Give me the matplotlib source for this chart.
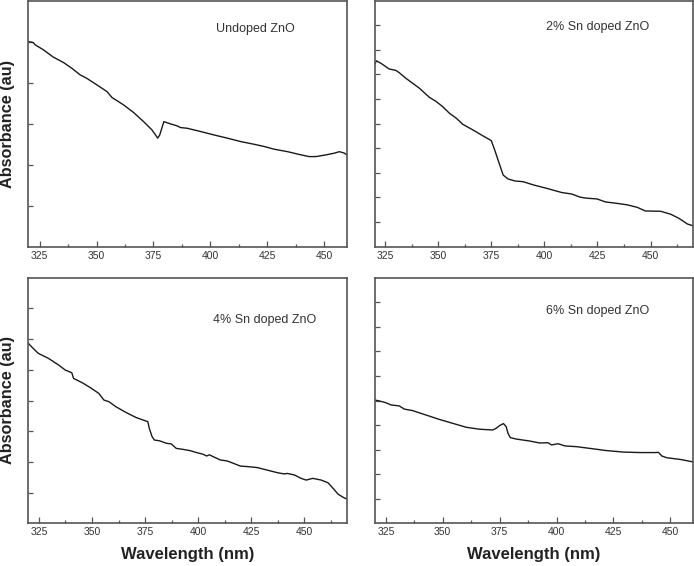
import matplotlib
matplotlib.use("Agg")
import matplotlib.pyplot as plt
from matplotlib.ticker import MultipleLocator, FixedLocator

plt.rcParams["font.family"] = ["Liberation Sans", "DejaVu Sans"]

undoped_nm = [320, 322.2, 323.0, 326.6, 331.0, 335.5, 339.1, 342.8, 345.7, 350.2,
              354.6, 356.8, 361.9, 366.3, 370.7, 374.4, 376.9, 377.8, 379.6, 382.5,
              385.4, 386.9, 389.9, 395.7, 401.6, 407.5, 413.4, 419.3, 423.7, 428.1,
              434.0, 439.9, 443.5, 446.5, 450.9, 454.6, 456.8, 459.0, 460]
undoped_abs = [0.833, 0.829, 0.820, 0.800, 0.770, 0.748, 0.725, 0.698, 0.684, 0.657,
               0.630, 0.606, 0.576, 0.545, 0.508, 0.474, 0.441, 0.454, 0.508, 0.499,
               0.491, 0.484, 0.481, 0.468, 0.454, 0.441, 0.427, 0.416, 0.407, 0.396,
               0.386, 0.373, 0.366, 0.366, 0.373, 0.380, 0.386, 0.380, 0.373]

sn2_nm = [320, 320.9, 323.0, 326.9, 330.1, 331.6, 334.8, 341.1, 345.8, 349.0,
          352.1, 355.3, 358.5, 361.6, 366.4, 371.1, 375.0, 376.6, 378.7, 380.6,
          382.9, 386.1, 390.0, 394.8, 401.1, 408.2, 412.9, 416.9, 420.0, 424.8,
          428.7, 434.2, 439.0, 443.7, 447.6, 454.7, 459.5, 463.4, 467.4, 470]
sn2_abs = [0.739, 0.755, 0.745, 0.722, 0.716, 0.707, 0.684, 0.644, 0.607, 0.590,
           0.569, 0.542, 0.522, 0.497, 0.474, 0.450, 0.431, 0.393, 0.339, 0.291,
           0.275, 0.267, 0.264, 0.251, 0.237, 0.220, 0.214, 0.201, 0.197, 0.194,
           0.182, 0.176, 0.170, 0.160, 0.145, 0.144, 0.132, 0.115, 0.092, 0.085]

sn4_nm = [320, 321.5, 324.7, 329.4, 334.2, 337.4, 340.5, 341.3, 345.3, 349.3,
          353.2, 355.6, 358.0, 361.2, 365.9, 370.7, 373.9, 376.3, 377.0, 378.3,
          379.4, 381.8, 385.0, 387.4, 389.7, 392.9, 396.1, 399.3, 402.4, 404.0,
          405.3, 407.2, 410.4, 413.6, 416.7, 419.9, 423.1, 427.8, 431.0, 434.2,
          437.4, 440.5, 442.1, 445.3, 448.5, 450.9, 454.0, 458.0, 461.2, 463.6,
          465.9, 468.3, 470]
sn4_abs = [0.733, 0.719, 0.692, 0.672, 0.645, 0.624, 0.613, 0.590, 0.573, 0.552,
           0.529, 0.502, 0.495, 0.475, 0.452, 0.431, 0.421, 0.414, 0.387, 0.353,
           0.339, 0.336, 0.326, 0.323, 0.305, 0.301, 0.296, 0.288, 0.281, 0.274,
           0.279, 0.271, 0.258, 0.254, 0.244, 0.233, 0.231, 0.227, 0.220, 0.213,
           0.206, 0.201, 0.203, 0.197, 0.183, 0.176, 0.183, 0.176, 0.165, 0.142,
           0.119, 0.106, 0.099]

sn6_nm = [320, 321.7, 325.0, 327.2, 330.9, 333.1, 336.7, 342.6, 348.5, 354.4,
          360.3, 366.2, 372.0, 373.5, 375.0, 376.7, 377.9, 378.7, 379.7, 382.3,
          388.2, 392.6, 396.3, 397.8, 400.7, 403.7, 408.8, 414.7, 422.0, 429.4,
          436.7, 443.4, 444.8, 446.3, 448.5, 454.4, 460]
sn6_abs = [0.502, 0.499, 0.491, 0.482, 0.478, 0.465, 0.459, 0.441, 0.423, 0.407,
           0.391, 0.383, 0.380, 0.387, 0.398, 0.406, 0.393, 0.366, 0.349, 0.343,
           0.335, 0.327, 0.328, 0.319, 0.324, 0.315, 0.312, 0.305, 0.296, 0.290,
           0.288, 0.288, 0.289, 0.274, 0.267, 0.260, 0.250]

panel_labels = ["Undoped ZnO", "2% Sn doped ZnO", "4% Sn doped ZnO", "6% Sn doped ZnO"]
x_ranges = [(320, 460), (320, 470), (320, 470), (320, 460)]
y_tick_steps = [1 / 6, 0.1, 0.125, 0.1]

W, H = 694, 566
fig = plt.figure(figsize=(W / 100, H / 100), dpi=100)

# panel boxes in pixels: left, top, right, bottom
boxes = [(28.3, 0.5, 346.7, 246.7), (374.5, 0.5, 693.0, 246.7),
         (28.3, 277.7, 346.7, 523.3), (374.5, 277.7, 693.0, 523.3)]
label_pos = [(0.712, 0.885), (0.702, 0.893), (0.743, 0.828), (0.702, 0.864)]
series = [(undoped_nm, undoped_abs), (sn2_nm, sn2_abs),
          (sn4_nm, sn4_abs), (sn6_nm, sn6_abs)]

spine_col = "#555555"
text_col = "#333333"

for i, (l, t, r, b) in enumerate(boxes):
    ax = fig.add_axes([l / W, 1 - b / H, (r - l) / W, (b - t) / H])
    x, y = series[i]
    ax.plot(x, y, color="#1a1a1a", lw=1.0)
    ax.set_xlim(*x_ranges[i])
    ax.set_ylim(0, 1)
    ax.xaxis.set_major_locator(MultipleLocator(25))
    ax.xaxis.set_minor_locator(MultipleLocator(12.5))
    step = y_tick_steps[i]
    yt = [0.5 + k * step for k in range(-6, 7) if 0.05 < 0.5 + k * step < 0.95]
    ax.yaxis.set_major_locator(FixedLocator(yt))
    ax.set_yticklabels([])
    ax.tick_params(axis="both", which="both", direction="in", color=spine_col,
                   width=0.9, labelcolor=text_col, labelsize=7.5)
    ax.tick_params(axis="x", which="major", length=4, pad=3)
    ax.tick_params(axis="x", which="minor", length=2.5)
    ax.tick_params(axis="y", which="major", length=3.5)
    for s in ax.spines.values():
        s.set_color(spine_col)
        s.set_linewidth(1.2)
    ax.text(*label_pos[i], panel_labels[i], transform=ax.transAxes,
            ha="center", va="center", fontsize=9, color=text_col)

for yc in [123.6, 400.5]:
    fig.text(8 / W, 1 - yc / H, "Absorbance (au)", rotation=90, ha="center",
             va="center", fontsize=11.7, fontweight="bold", color="#222222")
for xc in [187.5, 533.8]:
    fig.text(xc / W, 1 - 555 / H, "Wavelength (nm)", ha="center", va="center",
             fontsize=12, fontweight="bold", color="#222222")

fig.savefig("out.png", dpi=100)
